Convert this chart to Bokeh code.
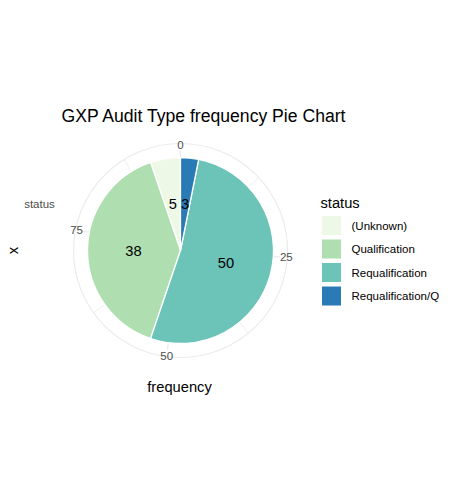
import math
from bokeh.plotting import figure
from bokeh.models import Range1d, ColumnDataSource
from bokeh.core.properties import value
from bokeh.embed import file_html
from bokeh.resources import INLINE

# ---- data ----
statuses = ["(Unknown)", "Qualification", "Requalification", "Requalification/Q"]
frequency = [5, 38, 50, 3]
colors = ["#EDF8E6", "#AFDFB0", "#6CC4B9", "#2A7AB5"]
theta_ticks = [0, 25, 50, 75]
theta_minor = [12.5, 37.5, 62.5, 87.5]
title_text = "GXP Audit Type frequency Pie Chart"

# ---- layout (reference pixel space, y measured from top) ----
W, H = 439, 486
OFF = 1
FONT = "Liberation Sans"
cx, cy_ref = 181, 250
R_PIE = 93
R_GRID = 107
R_MAJ = 100
R_TICKLAB = 106
R_LAB = 47


def Y(y_ref):
    return OFF + H - y_ref


cy = Y(cy_ref)
p = figure(width=W, height=H, output_backend="svg", toolbar_location=None,
           x_range=Range1d(OFF, OFF + W), y_range=Range1d(OFF, OFF + H),
           min_border=0, outline_line_color=None)
p.axis.visible = False
p.grid.visible = False
p.background_fill_color = "white"

# stacking order in ggplot: last level at the start (top, clockwise)
order = list(range(len(statuses)))[::-1]
total = sum(frequency)
start = {}
acc = 0
for i in order:
    start[i] = acc
    acc += frequency[i]


def ang(t):
    # theta in data units, clockwise from top -> bokeh angle (anticlock from +x)
    return math.pi / 2 - 2 * math.pi * t / total


# grid: outer circle and radial lines
p.circle(x=[cx], y=[cy], radius=R_GRID, fill_color=None, line_color="#EBEBEB",
         line_width=1.2)
for t in theta_ticks + theta_minor:
    a = ang(t)
    r = R_MAJ if t in theta_ticks else R_GRID
    p.line(x=[cx, cx + r * math.cos(a)], y=[cy, cy + r * math.sin(a)],
           line_color="#EBEBEB", line_width=1.2 if t in theta_ticks else 0.8)

# wedges
ws = ColumnDataSource(dict(
    s=[ang(start[i] + frequency[i]) for i in range(len(statuses))],
    e=[ang(start[i]) for i in range(len(statuses))],
    c=colors,
))
p.wedge(x=cx, y=cy, radius=R_PIE, start_angle="s", end_angle="e",
        fill_color="c", line_color="white", line_width=1.3, source=ws)

# slice labels
lx, ly, lt = [], [], []
for i in range(len(statuses)):
    a = ang(start[i] + frequency[i] / 2)
    lx.append(cx + R_LAB * math.cos(a))
    ly.append(cy + R_LAB * math.sin(a))
    lt.append(str(frequency[i]))
p.text(x=lx, y=ly, text=lt, text_font=value(FONT), text_font_size="14.7px",
       text_align="center", text_baseline="middle", text_color="black")

# theta tick labels
tx, ty, tt = [], [], []
for t in theta_ticks:
    a = ang(t)
    tx.append(cx + R_TICKLAB * math.cos(a))
    ty.append(cy + R_TICKLAB * math.sin(a))
    tt.append(str(t))
p.text(x=tx, y=ty, text=tt, text_font=value(FONT), text_font_size="11.5px",
       text_align="center", text_baseline="middle", text_color="#4D4D4D")

# r-axis label "status"
p.text(x=[40], y=[Y(203)], text=["status"], text_font=value(FONT),
       text_font_size="11.5px", text_align="center", text_baseline="middle",
       text_color="#4D4D4D")
# axis titles
p.text(x=[13], y=[Y(250)], text=["x"], angle=math.pi / 2, text_font=value(FONT),
       text_font_size="14.7px", text_align="center", text_baseline="middle",
       text_color="black")
p.text(x=[180], y=[Y(386)], text=["frequency"], text_font=value(FONT),
       text_font_size="14.7px", text_align="center", text_baseline="middle",
       text_color="black")
# title
p.text(x=[62], y=[Y(115)], text=[title_text], text_font=value(FONT),
       text_font_size="17.6px", text_align="left", text_baseline="middle",
       text_color="black")

# legend
p.text(x=[321], y=[Y(202)], text=["status"], text_font=value(FONT),
       text_font_size="14.7px", text_align="left", text_baseline="middle",
       text_color="black")
key_y = [Y(225 + 23.5 * k) for k in range(len(statuses))]
p.rect(x=[332] * len(statuses), y=key_y, width=20, height=20,
       fill_color=colors, line_color="white", line_width=1)
p.text(x=[352] * len(statuses), y=key_y, text=statuses, text_font=value(FONT),
       text_font_size="11.5px", text_align="left", text_baseline="middle",
       text_color="black")

open("out.html", "w").write(file_html(p, INLINE))
